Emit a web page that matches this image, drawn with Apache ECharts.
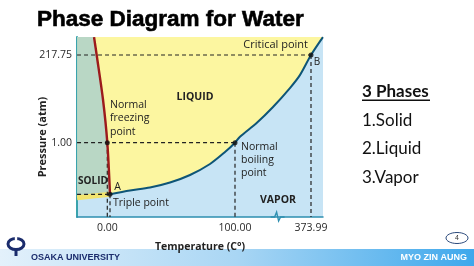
<!DOCTYPE html>
<html><head><meta charset="utf-8">
<script src="https://cdn.jsdelivr.net/npm/echarts@6/dist/echarts.min.js"></script>
<style>html,body{margin:0;padding:0;background:#fff}#c{width:474px;height:266px}</style>
</head><body><div id="c"></div>
<script>
// ---------- data ----------
const titleText = 'Phase Diagram for Water';
const xAxisTitle = 'Temperature (C°)';
const yAxisTitle = 'Pressure (atm)';
const tempTicks = [0, 100, 373.99];
const tempTickLabels = ['0.00', '100.00', '373.99'];
const pressTicks = [1, 217.75];
const pressTickLabels = ['1.00', '217.75'];
const triplePoint = [0.01, 0.006];
const freezingPoint = [0, 1];
const boilingPoint = [100, 1];
const criticalPoint = [373.99, 217.75];
const meltT = [0.01, 0, -3.4, -8.5, -10.6];
const meltP = [0.006, 1, 106.5, 217.75, 262];
const vaporT = [0.01, 16, 32, 48, 64, 80, 92, 100, 118, 178, 237, 298, 334, 373.99, 417];
const vaporP = [0.006, 0.079, 0.137, 0.233, 0.378, 0.59, 0.82, 1, 15.8, 49.7, 89.2, 136, 168, 217.75, 262];
const sublimT = [-24.2, 0.01];
const sublimP = [0.0051, 0.006];
const axisBreakTemp = 250;
const sideHeading = '3 Phases';
const sideItems = ['1.Solid', '2.Liquid', '3.Vapor'];
const footerLeft = 'OSAKA UNIVERSITY';
const footerRight = 'MYO ZIN AUNG';
const pageNo = '4';

// ---------- schematic (not-to-scale) axis scales ----------
function piecewise(ins, outs, slopeLo, slopeHi) {
  return function (v) {
    const n = ins.length;
    if (v <= ins[0]) return outs[0] + (v - ins[0]) * slopeLo;
    if (v >= ins[n - 1]) return outs[n - 1] + (v - ins[n - 1]) * slopeHi;
    for (let i = 0; i < n - 1; i++) {
      if (v <= ins[i + 1]) {
        const t = (v - ins[i]) / (ins[i + 1] - ins[i]);
        return outs[i] + t * (outs[i + 1] - outs[i]);
      }
    }
  };
}
const XW = 246, YH = 180;
const xs = piecewise([0, 0.01, 100, 373.99], [30.3, 33, 158, 234], 1.25, 76 / 273.99);
const ys = piecewise([0, 0.006, 1, 217.75], [0, 22.7, 74.3, 162], 22.7 / 0.006, 87.7 / 216.75);
const Tmin = -24.2, Tmax = 417.3, Pmax = 262.2;
const pt = (T, P) => [xs(T), ys(P)];
const zip = (a, b) => a.map((v, i) => pt(v, b[i]));

const meltPts = zip(meltT, meltP);
const vaporPts = zip(vaporT, vaporP);
const sublimPts = zip(sublimT, sublimP);

const xTickPos = tempTicks.map(xs);
const yTickPos = pressTicks.map(ys);
function lookup(pos, arr, labels) {
  let best = 0;
  arr.forEach((p, i) => { if (Math.abs(p - pos) < Math.abs(arr[best] - pos)) best = i; });
  return labels[best];
}

const DASH = { color: '#222', width: 1.2, type: [4, 3] };
const dashSegs = [
  [[Tmin, criticalPoint[1]], criticalPoint],
  [criticalPoint, [criticalPoint[0], 0]],
  [[Tmin, boilingPoint[1]], boilingPoint],
  [boilingPoint, [boilingPoint[0], 0]],
  [freezingPoint, [freezingPoint[0], 0]],
  [[Tmin, triplePoint[1]], triplePoint],
  [triplePoint, [triplePoint[0], 0]]
];

const FONT = 'Open Sans';
const series = [];
// region fills
series.push({
  type: 'custom', z: 1, silent: true, data: [0],
  renderItem: function (params, api) {
    const c = p => api.coord(p);
    const liquid = vaporPts.map(c).concat(meltPts.slice().reverse().map(c));
    const solid = [c(pt(Tmin, Pmax))].concat(meltPts.slice().reverse().map(c))
      .concat(sublimPts.slice().reverse().map(c)).concat([c(pt(Tmin, sublimP[0]))]);
    const bx = c([xs(axisBreakTemp), 0]);
    return {
      type: 'group', children: [
        { type: 'polygon', shape: { points: liquid }, style: { fill: '#fcf6a0' } },
        { type: 'polygon', shape: { points: solid }, style: { fill: '#b9d7c5' } },
        { type: 'polyline', shape: { points: [[bx[0] - 6, bx[1]], [bx[0] - 2, bx[1]], [bx[0], bx[1] - 5], [bx[0] + 2, bx[1] + 4], [bx[0] + 4, bx[1]], [bx[0] + 8, bx[1]]] },
          style: { stroke: '#2e8fb0', lineWidth: 1.4, fill: null } }
      ]
    };
  }
});
// sublimation band
series.push({ type: 'line', z: 2, data: sublimPts, symbol: 'none', silent: true,
  lineStyle: { color: '#f2e46e', width: 5 } });
// dashed guides
dashSegs.forEach(s => series.push({ type: 'line', z: 3, data: s.map(p => pt(p[0], p[1])), symbol: 'none', silent: true, lineStyle: DASH }));
// curves
series.push({ type: 'line', z: 4, data: meltPts, symbol: 'none', smooth: 0.3, silent: true, lineStyle: { color: '#9c1a1c', width: 2.4 } });
series.push({ type: 'line', z: 4, data: vaporPts, symbol: 'none', smooth: 0.3, silent: true, lineStyle: { color: '#0e5577', width: 2 } });
// points
series.push({ type: 'scatter', z: 5, symbol: 'circle', symbolSize: 5, itemStyle: { color: '#111' }, silent: true,
  data: [triplePoint, freezingPoint, boilingPoint, criticalPoint].map(p => pt(p[0], p[1])) });

const txt = (x, y, text, o) => Object.assign({ type: 'text', x: x, y: y, z: 10,
  style: Object.assign({ text: text, fill: '#222', font: '10.5px "' + FONT + '"', textVerticalAlign: 'middle' }, o || {}) });

const chart = echarts.init(document.getElementById('c'), null, { renderer: 'canvas' });
chart.setOption({
  animation: false,
  backgroundColor: '#ffffff',
  grid: { left: 77, top: 37, width: XW, height: YH, show: true, backgroundColor: '#c7e4f5', borderWidth: 0 },
  xAxis: {
    type: 'value', min: 0, max: XW,
    name: xAxisTitle, nameLocation: 'middle', nameGap: 25,
    nameTextStyle: { fontFamily: FONT, fontWeight: 'bold', fontSize: 10.5, color: '#222' },
    axisLine: { show: true, onZero: false, lineStyle: { color: '#2e8fb0', width: 1.5 } },
    axisTick: { show: false }, splitLine: { show: false },
    axisLabel: { customValues: xTickPos, margin: 6, fontFamily: FONT, fontSize: 10.5, color: '#2a2a2a',
      formatter: v => lookup(v, xTickPos, tempTickLabels) }
  },
  yAxis: {
    type: 'value', min: 0, max: YH,
    axisLine: { show: true, onZero: false, lineStyle: { color: '#3aa3ad', width: 2 } },
    axisTick: { show: false }, splitLine: { show: false },
    axisLabel: { customValues: yTickPos, margin: 5, fontFamily: FONT, fontSize: 10.5, color: '#2a2a2a',
      formatter: v => lookup(v, yTickPos, pressTickLabels) }
  },
  series: series,
  graphic: [
    // footer bar
    { type: 'rect', shape: { x: 0, y: 249, width: 474, height: 17 }, z: 0,
      style: { fill: new echarts.graphic.LinearGradient(0, 0, 1, 0, [{ offset: 0, color: '#e3f1fb' }, { offset: 0.5, color: '#a9d6f4' }, { offset: 1, color: '#3ea8ec' }]) } },
    // logo
    { type: 'ellipse', shape: { cx: 16, cy: 244, rx: 8, ry: 5.5 }, z: 1, style: { stroke: '#1b2c6c', lineWidth: 3, fill: null } },
    { type: 'rect', shape: { x: 14.5, y: 248, width: 3, height: 8 }, z: 1, style: { fill: '#1b2c6c' } },
    { type: 'rect', shape: { x: 14.8, y: 237, width: 2.4, height: 4 }, z: 2, style: { fill: '#ffffff' } },
    txt(31, 258, footerLeft, { fill: '#1b2c6c', font: 'bold 9px "Liberation Sans"' }),
    txt(467, 258, footerRight, { fill: '#ffffff', font: 'bold 9px "Liberation Sans"', textAlign: 'right' }),
    { type: 'ellipse', shape: { cx: 457, cy: 238, rx: 11, ry: 5.5 }, z: 1, style: { stroke: '#2b4a7c', lineWidth: 1, fill: '#fff' } },
    txt(457, 238, pageNo, { font: '7px "Liberation Sans"', textAlign: 'center', fill: '#333' }),
    // title
    txt(37, 20, titleText, { fill: '#000', font: 'bold 22.5px "Liberation Sans"', stroke: '#000', lineWidth: 0.6 }),
    // side list
    txt(362, 92, sideHeading, { fill: '#111', font: 'bold 17px "Lato"' }),
    { type: 'rect', shape: { x: 362, y: 99.5, width: 68, height: 1.5 }, z: 10, style: { fill: '#111' } },
    txt(362, 121, sideItems[0], { fill: '#111', font: '17px "Lato"' }),
    txt(362, 149, sideItems[1], { fill: '#111', font: '17px "Lato"' }),
    txt(362, 178, sideItems[2], { fill: '#111', font: '17px "Lato"' }),
    // y axis title
    { type: 'text', x: 43, y: 137, rotation: Math.PI / 2, z: 10,
      style: { text: yAxisTitle, fill: '#222', font: 'bold 11px "' + FONT + '"', textAlign: 'center', textVerticalAlign: 'middle' } },
    // annotations
    txt(308, 45, 'Critical point', { textAlign: 'right', font: '11px "' + FONT + '"' }),
    txt(317, 62, 'B', { textAlign: 'center', font: '10px "' + FONT + '"' }),
    txt(195, 97, 'LIQUID', { textAlign: 'center', font: 'bold 10.5px "' + FONT + '"' }),
    txt(110, 105, 'Normal', {}), txt(110, 118.5, 'freezing', {}), txt(110, 132, 'point', {}),
    txt(241, 147, 'Normal', {}), txt(241, 160, 'boiling', {}), txt(241, 173, 'point', {}),
    txt(278, 200, 'VAPOR', { textAlign: 'center', font: 'bold 10.5px "' + FONT + '"' }),
    txt(93, 181, 'SOLID', { textAlign: 'center', font: 'bold 10px "' + FONT + '"' }),
    txt(117.5, 187, 'A', { textAlign: 'center' }),
    txt(113, 203, 'Triple point', {})
  ]
});
</script></body></html>
